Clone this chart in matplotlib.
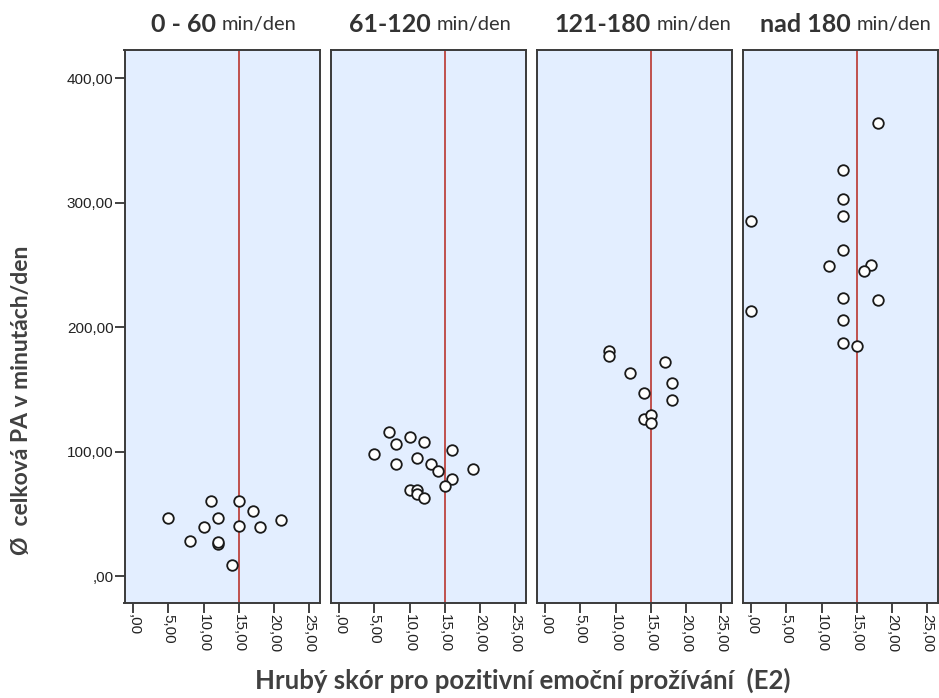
import matplotlib
matplotlib.use("Agg")
import matplotlib.pyplot as plt
from matplotlib.ticker import FixedLocator, FuncFormatter

# ---- data ----
panel_bold = ["0 - 60", "61-120", "121-180", "nad 180"]
panel_unit = "min/den"

p1_x = [11, 15, 17, 5, 12, 21, 10, 15, 18, 8, 12, 12, 14]
p1_y = [60, 60, 52, 47, 47, 45, 39, 40, 39, 28, 26, 27, 9]

p2_x = [7, 10, 12, 8, 5, 16, 8, 11, 13, 14, 19, 16, 15, 10, 11, 11, 12]
p2_y = [116, 112, 108, 106, 98, 101, 90, 95, 90, 84, 86, 78, 72, 69, 69, 66, 63]

p3_x = [9, 9, 17, 12, 18, 14, 18, 14, 15, 15]
p3_y = [181, 177, 172, 163, 155, 147, 141, 126, 129, 123]

p4_x = [18, 13, 13, 13, 0, 13, 11, 17, 16, 13, 18, 0, 13, 13, 15]
p4_y = [364, 326, 303, 289, 285, 262, 249, 250, 245, 223, 222, 213, 206, 187, 185]

xs = [p1_x, p2_x, p3_x, p4_x]
ys = [p1_y, p2_y, p3_y, p4_y]

ref_x = 15
x_ticks = [0, 5, 10, 15, 20, 25]
y_ticks = [0, 100, 200, 300, 400]

x_label = "Hrubý skór pro pozitivní emoční prožívání  (E2)"
y_label = "Ø  celková PA v minutách/den"

def fmt(v, pos=None):
    s = f"{v:.2f}".replace(".", ",")
    if s.startswith("0,"):
        s = s[1:]
    return s

W, H = 939, 698
fig = plt.figure(figsize=(W / 100, H / 100), dpi=100)
fig.patch.set_facecolor("white")

lefts = [124.5, 330.5, 536.5, 742.5]
pw = 195.0
top, bottom = 50.0, 602.7

edge = "#3a3a3a"
for i in range(4):
    ax = fig.add_axes([lefts[i] / W, 1 - bottom / H, pw / W, (bottom - top) / H])
    ax.set_facecolor("#e3eeff")
    ax.set_xlim(-1.25, 26.45)
    ax.set_ylim(-21.4, 422.5)
    ax.axvline(ref_x, color="#c0504d", lw=1.4, zorder=1)
    ax.scatter(xs[i], ys[i], s=58, facecolor="white", edgecolor="#1a1a1a",
               linewidths=1.3, zorder=3)
    for sp in ax.spines.values():
        sp.set_color(edge)
        sp.set_linewidth(1.4)
    ax.xaxis.set_major_locator(FixedLocator(x_ticks))
    ax.xaxis.set_major_formatter(FuncFormatter(fmt))
    ax.tick_params(axis="x", direction="out", length=7, width=1.2, color="#222222",
                   labelsize=11, labelcolor="#222222", labelrotation=-90, pad=1)
    for lab in ax.get_xticklabels():
        lab.set_fontfamily("Liberation Sans")
    ax.yaxis.set_major_locator(FixedLocator(y_ticks))
    if i == 0:
        ax.yaxis.set_major_formatter(FuncFormatter(fmt))
        ax.tick_params(axis="y", direction="out", length=7, width=1.2, color="#222222",
                       labelsize=11, labelcolor="#222222", pad=1)
        for lab in ax.get_yticklabels():
            lab.set_fontfamily("Liberation Sans")
    else:
        ax.tick_params(axis="y", left=False, labelleft=False)

# panel titles: bold part + regular unit
splits = [216, 431, 651, 851]
for i in range(4):
    fig.text(splits[i] / W, 1 - 24 / H, panel_bold[i], ha="right", va="center",
             fontsize=18, fontweight="bold", family="Lato", color="#333333")
    fig.text((splits[i] + 6) / W, 1 - 24.5 / H, panel_unit, ha="left", va="center",
             fontsize=14.5, family="Lato", color="#333333")

fig.text(523 / W, 1 - 680 / H, x_label, ha="center", va="center",
         fontsize=18.5, fontweight="bold", family="Lato", color="#404040")
fig.text(22 / W, 1 - 400 / H, y_label, ha="center", va="center", rotation=90,
         fontsize=16.5, fontweight="bold", family="Lato", color="#404040")

fig.savefig("out.png", dpi=100, facecolor="white")
